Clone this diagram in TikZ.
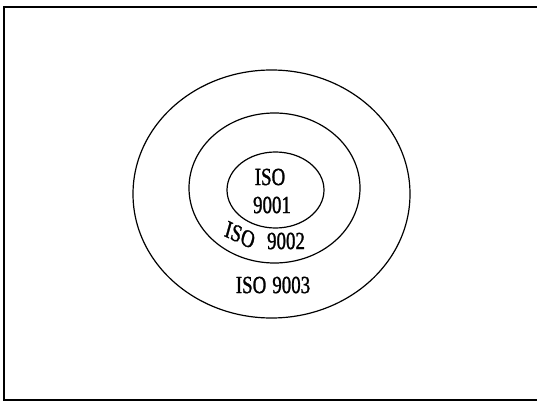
\documentclass[tikz,border=0pt]{standalone}
\usepackage{fontspec}
\setmainfont{Liberation Serif}
\newfontfamily\lblfont[FakeBold=1.4]{Liberation Serif}
\begin{document}
\begin{tikzpicture}[x=1pt,y=-1pt,
  ring/.style={draw=black,line width=1.2pt},
  lbl/.style={inner sep=0pt,font=\lblfont\fontsize{22}{24}\selectfont,xscale=0.86,yscale=1.12}]
\useasboundingbox (0,0) rectangle (537,403);
\draw[line width=1.8pt] (537,7) -- (4,7) -- (4,400) -- (537,400);
\draw[ring] (271.5,194) ellipse [x radius=138.5, y radius=124];
\draw[ring] (274.5,188) ellipse [x radius=85.5, y radius=75];
\draw[ring] (275.5,190) ellipse [x radius=48.5, y radius=38];
\node[lbl] (i1a) at (270,177) {ISO};
\node[lbl] (i1b) at (272,205) {9001};
\node[lbl,rotate=-20] (i2a) at (240,235) {ISO};
\node[lbl] (i2b) at (286,241) {9002};
\node[lbl] (i3) at (273,285) {ISO\hspace{7pt}9003};
\end{tikzpicture}
\end{document}
